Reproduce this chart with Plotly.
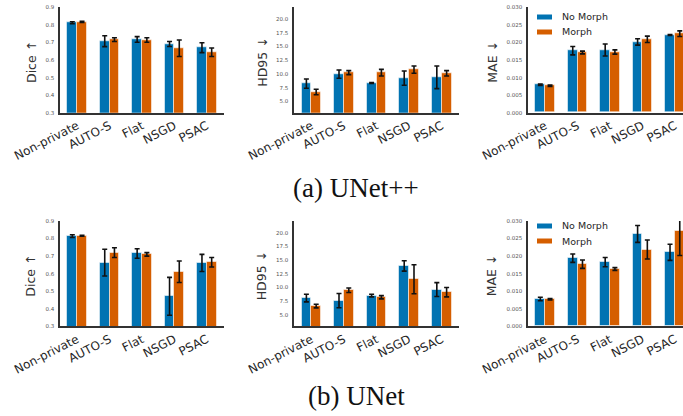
import plotly.graph_objects as go

categories = ["Non-private", "AUTO-S", "Flat", "NSGD", "PSAC"]
series_names = ["No Morph", "Morph"]

# (a) UNet++
pp_dice_nomorph = [0.812, 0.707, 0.717, 0.691, 0.670]
pp_dice_nomorph_err = [0.006, 0.031, 0.016, 0.014, 0.028]
pp_dice_morph = [0.817, 0.716, 0.714, 0.667, 0.644]
pp_dice_morph_err = [0.003, 0.011, 0.013, 0.047, 0.024]

pp_hd_nomorph = [8.22, 9.95, 8.35, 9.22, 9.37]
pp_hd_nomorph_err = [0.85, 0.76, 0.08, 1.30, 2.06]
pp_hd_morph = [6.70, 10.22, 10.22, 10.77, 10.10]
pp_hd_morph_err = [0.50, 0.36, 0.60, 0.67, 0.49]

pp_mae_nomorph = [0.00797, 0.01766, 0.01785, 0.02013, 0.02212]
pp_mae_nomorph_err = [0.0002, 0.0012, 0.0017, 0.0009, 0.0001]
pp_mae_morph = [0.00769, 0.01714, 0.01728, 0.02089, 0.02250]
pp_mae_morph_err = [0.0002, 0.0004, 0.0006, 0.0009, 0.0008]

# (b) UNet
u_dice_nomorph = [0.814, 0.663, 0.715, 0.471, 0.661]
u_dice_nomorph_err = [0.008, 0.076, 0.027, 0.108, 0.049]
u_dice_morph = [0.816, 0.720, 0.710, 0.611, 0.665]
u_dice_morph_err = [0.003, 0.028, 0.010, 0.061, 0.027]

u_hd_nomorph = [8.07, 7.60, 8.52, 13.93, 9.62]
u_hd_nomorph_err = [0.70, 1.30, 0.24, 0.94, 1.27]
u_hd_morph = [6.61, 9.50, 8.22, 11.50, 9.14]
u_hd_morph_err = [0.33, 0.42, 0.30, 2.64, 0.85]

u_mae_nomorph = [0.00778, 0.01941, 0.01828, 0.02630, 0.02108]
u_mae_nomorph_err = [0.0005, 0.0012, 0.0013, 0.0024, 0.0023]
u_mae_morph = [0.00774, 0.01771, 0.01633, 0.02188, 0.02715]
u_mae_morph_err = [0.0002, 0.0012, 0.0004, 0.0027, 0.0070]

dice_ticks = [0.3, 0.4, 0.5, 0.6, 0.7, 0.8, 0.9]
hd_ticks = [5.0, 7.5, 10.0, 12.5, 15.0, 17.5, 20.0]
mae_ticks = [0.000, 0.005, 0.010, 0.015, 0.020, 0.025, 0.030]

titles = ["Dice ↑", "HD95 ↓", "MAE ↓"]
captions = ["(a) UNet++", "(b) UNet"]

BLUE = "#0173B2"
ORANGE = "#D55E00"
W, H = 683, 416
FONT = "DejaVu Sans"

fig = go.Figure()

# pixel geometry
col_px = [(60, 224, [-0.53, 4.53]), (294, 459, [-0.53, 4.53]), (528, 683, [-0.53, 4.25])]
row_px = [(7.3, 112.7), (221.0, 326.3)]
ytitle_x = [31, 261.7, 491.7]

panels = [
    [(pp_dice_nomorph, pp_dice_nomorph_err, pp_dice_morph, pp_dice_morph_err, [0.3, 0.9], dice_ticks, ".1f"),
     (pp_hd_nomorph, pp_hd_nomorph_err, pp_hd_morph, pp_hd_morph_err, [2.92, 22.13], hd_ticks, ".1f"),
     (pp_mae_nomorph, pp_mae_nomorph_err, pp_mae_morph, pp_mae_morph_err, [0.0, 0.030], mae_ticks, ".3f")],
    [(u_dice_nomorph, u_dice_nomorph_err, u_dice_morph, u_dice_morph_err, [0.3, 0.9], dice_ticks, ".1f"),
     (u_hd_nomorph, u_hd_nomorph_err, u_hd_morph, u_hd_morph_err, [2.92, 22.13], hd_ticks, ".1f"),
     (u_mae_nomorph, u_mae_nomorph_err, u_mae_morph, u_mae_morph_err, [0.0, 0.030], mae_ticks, ".3f")],
]

annotations = []
shapes = []
k = 0
for r, row in enumerate(panels):
    for c, (v1, e1, v2, e2, yr, ytv, fmt) in enumerate(row):
        k += 1
        xa = "x" if k == 1 else f"x{k}"
        ya = "y" if k == 1 else f"y{k}"
        for vals, errs, color, name, off in [(v1, e1, BLUE, series_names[0], -0.3),
                                             (v2, e2, ORANGE, series_names[1], 0.0)]:
            fig.add_trace(go.Bar(
                x=categories, y=vals, name=name, xaxis=xa, yaxis=ya,
                width=0.3, offset=off, marker=dict(color=color, line=dict(color="rgba(255,255,255,0.55)", width=1)),
                error_y=dict(type="data", array=errs, color="#111111", thickness=1.6, width=2.5),
                showlegend=False,
            ))
        x0, x1, xr = col_px[c]
        y0, y1 = row_px[r]
        xkey = "xaxis" if k == 1 else f"xaxis{k}"
        ykey = "yaxis" if k == 1 else f"yaxis{k}"
        fig.layout[xkey] = dict(
            domain=[x0 / W, x1 / W], anchor=ya, range=xr, type="category", automargin=False,
            showline=True, linecolor="#333333", linewidth=1.5, showgrid=False, zeroline=False,
            ticks="", tickangle=-27, tickfont=dict(family=FONT, size=12, color="#262626"),
        )
        fig.layout[ykey] = dict(
            domain=[1 - y1 / H, 1 - y0 / H], anchor=xa, range=yr, automargin=False,
            tickvals=ytv, ticktext=[format(t, fmt) for t in ytv],
            showline=True, linecolor="#333333", linewidth=1.5, showgrid=False, zeroline=False,
            ticks="", ticklabelstandoff=3, tickfont=dict(family=FONT, size=5.5, color="#555555"),
        )
        annotations.append(dict(
            text=titles[c], x=ytitle_x[c] / W, y=1 - ((y0 + y1) / 2 + 2) / H, xref="paper", yref="paper",
            textangle=-90, showarrow=False, xanchor="center", yanchor="middle",
            font=dict(family=FONT, size=12.5, color="#333333"),
        ))

# captions
annotations.append(dict(text=captions[0], x=356 / W, y=1 - 188 / H, xref="paper", yref="paper",
                        showarrow=False, xanchor="center", yanchor="middle",
                        font=dict(family="Liberation Serif", size=27, color="#111111")))
annotations.append(dict(text=captions[1], x=356 / W, y=1 - 396 / H, xref="paper", yref="paper",
                        showarrow=False, xanchor="center", yanchor="middle",
                        font=dict(family="Liberation Serif", size=27, color="#111111")))

# legends in the MAE panels
for (ly1, ly2) in [(17, 32), (226, 241)]:
    for ly, color, name in [(ly1, BLUE, series_names[0]), (ly2, ORANGE, series_names[1])]:
        shapes.append(dict(type="rect", xref="paper", yref="paper",
                           x0=537 / W, x1=552 / W, y0=1 - (ly + 2.5) / H, y1=1 - (ly - 2.5) / H,
                           fillcolor=color, line=dict(width=0)))
        annotations.append(dict(text=name, x=560 / W, y=1 - ly / H, xref="paper", yref="paper",
                                showarrow=False, xanchor="left", yanchor="middle",
                                font=dict(family=FONT, size=9.5, color="#262626")))

fig.update_layout(
    width=W, height=H, margin=dict(l=0, r=0, t=0, b=0),
    paper_bgcolor="white", plot_bgcolor="white",
    annotations=annotations, shapes=shapes, bargap=0,
)

fig.write_html(
    "out.html",
    config={"displayModeBar": False},
    post_script="document.body.style.margin='0';document.body.style.padding='0';document.body.style.overflow='hidden';",
)
